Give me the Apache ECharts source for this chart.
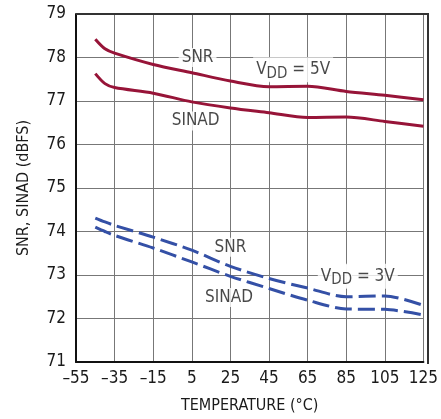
<!DOCTYPE html>
<html><head><meta charset="utf-8">
<script src="https://cdn.jsdelivr.net/npm/echarts@6/dist/echarts.min.js"></script>
<style>html,body{margin:0;padding:0;background:#fff}#c{width:441px;height:419px}</style>
</head><body><div id="c"></div>
<script>
var temps = [-45, -40, -35, -15, 5, 25, 45, 65, 85, 105, 125];
var snr5   = [78.42, 78.2, 78.1, 77.84, 77.65, 77.46, 77.33, 77.34, 77.22, 77.13, 77.03];
var sinad5 = [77.63, 77.4, 77.31, 77.18, 76.98, 76.84, 76.73, 76.62, 76.63, 76.53, 76.42];
var snr3   = [74.31, 74.22, 74.14, 73.87, 73.57, 73.2, 72.92, 72.7, 72.5, 72.52, 72.3];
var sinad3 = [74.1, 74.0, 73.91, 73.62, 73.3, 72.97, 72.69, 72.42, 72.22, 72.21, 72.08];
var xTicks = [-55, -35, -15, 5, 25, 45, 65, 85, 105, 125];
var yTicks = [71, 72, 73, 74, 75, 76, 77, 78, 79];
var labels = [
  {coord: [8, 78.0], text: 'SNR'},
  {coord: [7, 76.54], text: 'SINAD'},
  {coord: [57.5, 77.72], text: 'V{s|DD} = 5V'},
  {coord: [25, 73.64], text: 'SNR'},
  {coord: [24.3, 72.48], text: 'SINAD'},
  {coord: [91, 72.97], text: 'V{s|DD} = 3V'}
];
function pairs(ys){ return temps.map(function(t,i){ return [t, ys[i]]; }); }
var FONT = "'DejaVu Sans Condensed', 'Liberation Sans Narrow', 'Liberation Sans', Arial, sans-serif";
var RED = '#971438', BLUE = '#3450a6', TXT = '#1a1a1a';
var chart = echarts.init(document.getElementById('c'));
function ser(ys, color, dashed){
  return {type:'line', data:pairs(ys), smooth:0.3, symbol:'none', silent:true,
    lineStyle:{color:color, width:3, type: dashed ? [17,6] : 'solid'}, z:3};
}
var annot = {type:'scatter', data: labels.map(function(l){ return {value:l.coord, label:{formatter:l.text}}; }),
  symbolSize:0, silent:true, z:5,
  label:{show:true, position:'inside', color:TXT, fontFamily:FONT, fontSize:17,
    backgroundColor:'#fff', padding:[1,3],
    rich:{s:{fontSize:15, fontFamily:FONT, color:TXT, verticalAlign:'bottom', padding:[8,0,0,0], backgroundColor:'#fff'}}}};
chart.setOption({
  animation:false,
  grid:{left:76, right:13, top:14, bottom:55},
  xAxis:{type:'value', min:-55, max:125, interval:20,
    name:'TEMPERATURE (°C)', nameLocation:'middle', nameGap:36,
    nameTextStyle:{fontFamily:FONT, fontSize:16, color:TXT},
    axisLine:{show:true, onZero:false, lineStyle:{color:'#111', width:2}},
    axisTick:{show:false},
    axisLabel:{fontFamily:FONT, fontSize:17, color:TXT, margin:8,
      formatter:function(v){ return xTicks.indexOf(v)>=0 ? String(v).replace('-', '\u2013') : ''; }},
    splitLine:{show:true, lineStyle:{color:'#777', width:1}}},
  yAxis:{type:'value', min:71, max:79, interval:1,
    name:'SNR, SINAD (dBFS)', nameLocation:'middle', nameGap:44,
    nameTextStyle:{fontFamily:FONT, fontSize:16, color:TXT},
    axisLine:{show:true, onZero:false, lineStyle:{color:'#111', width:2}},
    axisTick:{show:false},
    axisLabel:{fontFamily:FONT, fontSize:17, color:TXT, margin:10,
      formatter:function(v){ return yTicks.indexOf(v)>=0 ? String(v) : ''; }},
    splitLine:{show:true, lineStyle:{color:'#777', width:1}}},
  graphic:[{type:'polyline', shape:{points:[[76,14],[428,14],[428,364]]}, style:{fill:'none', stroke:'#333', lineWidth:2}, z:10, silent:true}],
  series:[ser(snr5, RED, false), ser(sinad5, RED, false), ser(snr3, BLUE, true), ser(sinad3, BLUE, true), annot]
});
</script></body></html>
